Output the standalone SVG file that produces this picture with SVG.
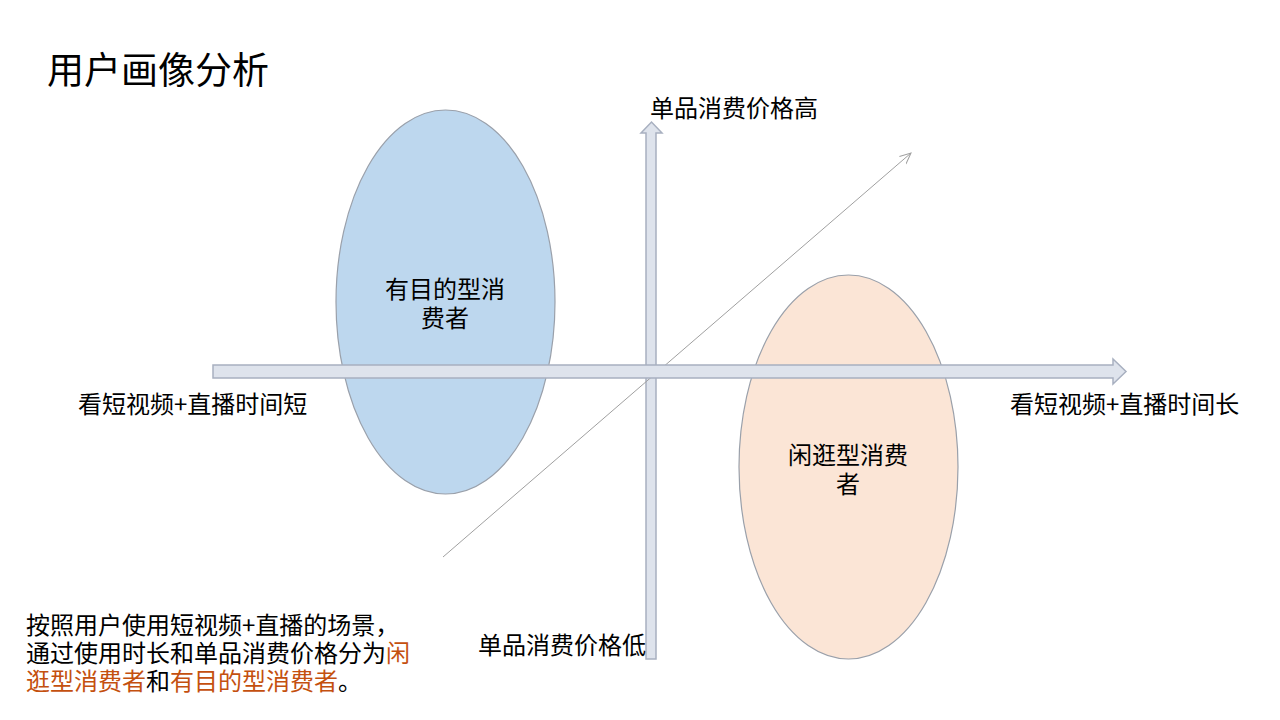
<svg xmlns="http://www.w3.org/2000/svg" width="1280" height="720" viewBox="0 0 1280 720">
<defs>
<style>
text{font-family:"Microsoft YaHei","Noto Sans CJK SC","Noto Sans",sans-serif;fill:#000;}
.t24{font-size:24px;}
.hl{fill:#C4500F;}
.ell{stroke:#9AA0AA;stroke-width:1.2;}
.arr{fill:#DEE3EC;stroke:#A8B0C0;stroke-width:1.5;}
</style>
<marker id="open" viewBox="0 0 12 12" refX="11" refY="6" markerWidth="12" markerHeight="12" markerUnits="userSpaceOnUse" orient="auto">
<path d="M0,1 L11,6 L0,11" fill="none" stroke="#A0A0A0" stroke-width="1"/>
</marker>
</defs>
<rect width="1280" height="720" fill="#fff"/>
<text x="47" y="84" style="font-size:37px">用户画像分析</text>
<g id="node-purpose">
<ellipse class="ell" cx="445.5" cy="302" rx="109.5" ry="192" fill="#BDD7EE"/>
</g>
<g id="node-browse">
<ellipse class="ell" cx="848.5" cy="467" rx="109.5" ry="192" fill="#FBE5D6"/>
</g>
<g id="connectors">
<path id="axis-y" class="arr" d="M646,659 L646,133 L641,133 L651.5,122 L662,133 L656,133 L656,659 Z"/>
<line id="diag" x1="443" y1="557" x2="911" y2="153" stroke="#A0A0A0" stroke-width="1" marker-end="url(#open)"/>
<path id="axis-x" class="arr" d="M213,365 L1113,365 L1113,359 L1126,371.5 L1113,384 L1113,378 L213,378 Z"/>
</g>
<g id="node-purpose-label">
<text class="t24" text-anchor="middle"><tspan x="445" y="298">有目的型消</tspan><tspan x="445" y="327">费者</tspan></text>
</g>
<g id="node-browse-label">
<text class="t24" text-anchor="middle"><tspan x="848" y="464">闲逛型消费</tspan><tspan x="848" y="493">者</tspan></text>
</g>
<g id="axis-labels">
<text class="t24" x="650" y="117">单品消费价格高</text>
<text class="t24" x="646" y="654" text-anchor="end">单品消费价格低</text>
<text class="t24" x="78" y="413">看短视频+直播时间短</text>
<text class="t24" x="1010" y="413">看短视频+直播时间长</text>
</g>
<g id="note">
<text class="t24"><tspan x="26" y="634">按照用户使用短视频+直播的场景，</tspan><tspan x="26" y="662">通过使用时长和单品消费价格分为</tspan><tspan class="hl">闲</tspan><tspan x="26" y="690" class="hl">逛型消费者</tspan><tspan>和</tspan><tspan class="hl">有目的型消费者</tspan><tspan>。</tspan></text>
</g>
</svg>
